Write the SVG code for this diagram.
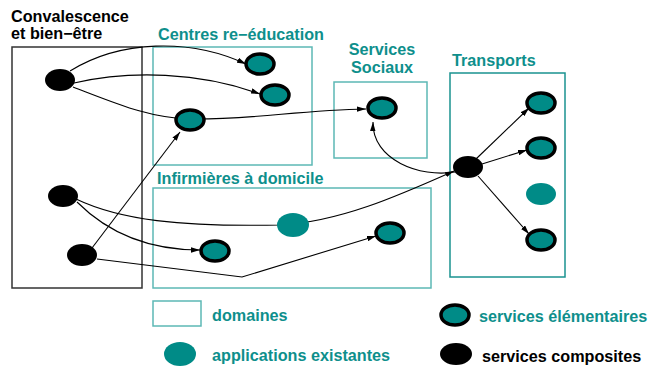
<svg xmlns="http://www.w3.org/2000/svg" width="652" height="369" viewBox="0 0 652 369">
<style>
.lbl{font-family:"Liberation Sans",Arial,sans-serif;font-weight:bold;font-size:16.2px;fill:#0e8f8c}
.blk{fill:#000}
.dom{fill:none;stroke:#5cb8b5;stroke-width:1.5}
.dom2{fill:none;stroke:#1a9290;stroke-width:1.5}
.elem{fill:#008b87;stroke:#000;stroke-width:3.5}
.app{fill:#008b87}
.comp{fill:#000}
.con{fill:none;stroke:#000;stroke-width:1.1}
</style>
<defs>
<marker id="ah" viewBox="0 0 10 6" refX="10" refY="3" markerWidth="9" markerHeight="5.5" markerUnits="userSpaceOnUse" orient="auto">
<path d="M0,0 L10,3 L0,6 Z" fill="#000"/>
</marker>
</defs>
<rect width="652" height="369" fill="#fff"/>

<g id="conv">
<rect x="12" y="47" width="130" height="241" fill="none" stroke="#333" stroke-width="1.5"/>
<text class="lbl blk" x="11" y="22">Convalescence</text>
<text class="lbl blk" x="11" y="39">et bien−être</text>
</g>
<g id="centres">
<rect class="dom" x="153" y="47" width="159" height="118"/>
<text class="lbl" x="158" y="40">Centres re−éducation</text>
</g>
<g id="sociaux">
<rect class="dom" x="334" y="82" width="93" height="76"/>
<text class="lbl" x="382" y="55" text-anchor="middle">Services</text>
<text class="lbl" x="382" y="73" text-anchor="middle">Sociaux</text>
</g>
<g id="transports">
<rect class="dom2" x="450" y="73" width="115" height="204"/>
<text class="lbl" x="452" y="66">Transports</text>
</g>
<g id="infirmieres">
<rect class="dom" x="153" y="188" width="278" height="100"/>
<text class="lbl" x="157" y="184">Infirmières à domicile</text>
</g>

<g id="connectors">
<path class="con" d="M70,71 C120,40 190,38 246,64" marker-end="url(#ah)"/>
<path class="con" d="M74,83 C130,70 200,72 260,94" marker-end="url(#ah)"/>
<path class="con" d="M73,87 C120,105 150,118 190,119 C250,120 300,110 366,109" marker-end="url(#ah)"/>
<path class="con" d="M92,248 L180,132" marker-end="url(#ah)"/>
<path class="con" d="M76,199 C120,220 180,227 280,225 C340,222 400,195 454,171" marker-end="url(#ah)"/>
<path class="con" d="M77,202 C110,235 150,250 200,250" marker-end="url(#ah)"/>
<polyline class="con" points="97,259 242,277 376,236" marker-end="url(#ah)"/>
<path class="con" d="M455,172 C420,178 372,160 373,122" marker-end="url(#ah)"/>
<path class="con" d="M476,159 L529,108" marker-end="url(#ah)"/>
<path class="con" d="M482,164 L527,150" marker-end="url(#ah)"/>
<path class="con" d="M478,176 L529,234" marker-end="url(#ah)"/>
</g>

<g id="n-conv1"><ellipse class="comp" cx="60" cy="80" rx="15" ry="11"/></g>
<g id="n-conv2"><ellipse class="comp" cx="63" cy="196" rx="15" ry="11"/></g>
<g id="n-conv3"><ellipse class="comp" cx="82" cy="255" rx="15" ry="11"/></g>
<g id="n-cen1"><ellipse class="elem" cx="260" cy="64" rx="14" ry="10"/></g>
<g id="n-cen2"><ellipse class="elem" cx="275" cy="95" rx="14" ry="10"/></g>
<g id="n-cen3"><ellipse class="elem" cx="190" cy="120" rx="14" ry="10"/></g>
<g id="n-soc"><ellipse class="elem" cx="382" cy="108" rx="14" ry="10"/></g>
<g id="n-tr"><ellipse class="comp" cx="468" cy="167" rx="15" ry="11"/></g>
<g id="n-tr1"><ellipse class="elem" cx="541" cy="103" rx="14" ry="10"/></g>
<g id="n-tr2"><ellipse class="elem" cx="541" cy="148" rx="14" ry="10"/></g>
<g id="n-tr3"><ellipse class="app" cx="541" cy="194" rx="15" ry="11"/></g>
<g id="n-tr4"><ellipse class="elem" cx="541" cy="240" rx="14" ry="10"/></g>
<g id="n-inf-app"><ellipse class="app" cx="293" cy="225" rx="16" ry="12"/></g>
<g id="n-inf1"><ellipse class="elem" cx="215" cy="251" rx="14" ry="10"/></g>
<g id="n-inf2"><ellipse class="elem" cx="390" cy="233" rx="14" ry="10"/></g>

<g id="legend">
<rect class="dom" x="153" y="301" width="48" height="25"/>
<text class="lbl" x="212" y="321">domaines</text>
<ellipse class="app" cx="180" cy="354" rx="16" ry="12"/>
<text class="lbl" x="212" y="361">applications existantes</text>
<ellipse class="elem" cx="455" cy="315" rx="14" ry="10"/>
<text class="lbl" x="479" y="322">services élémentaires</text>
<ellipse class="comp" cx="456" cy="354" rx="16" ry="11"/>
<text class="lbl blk" x="482" y="362">services composites</text>
</g>
</svg>
